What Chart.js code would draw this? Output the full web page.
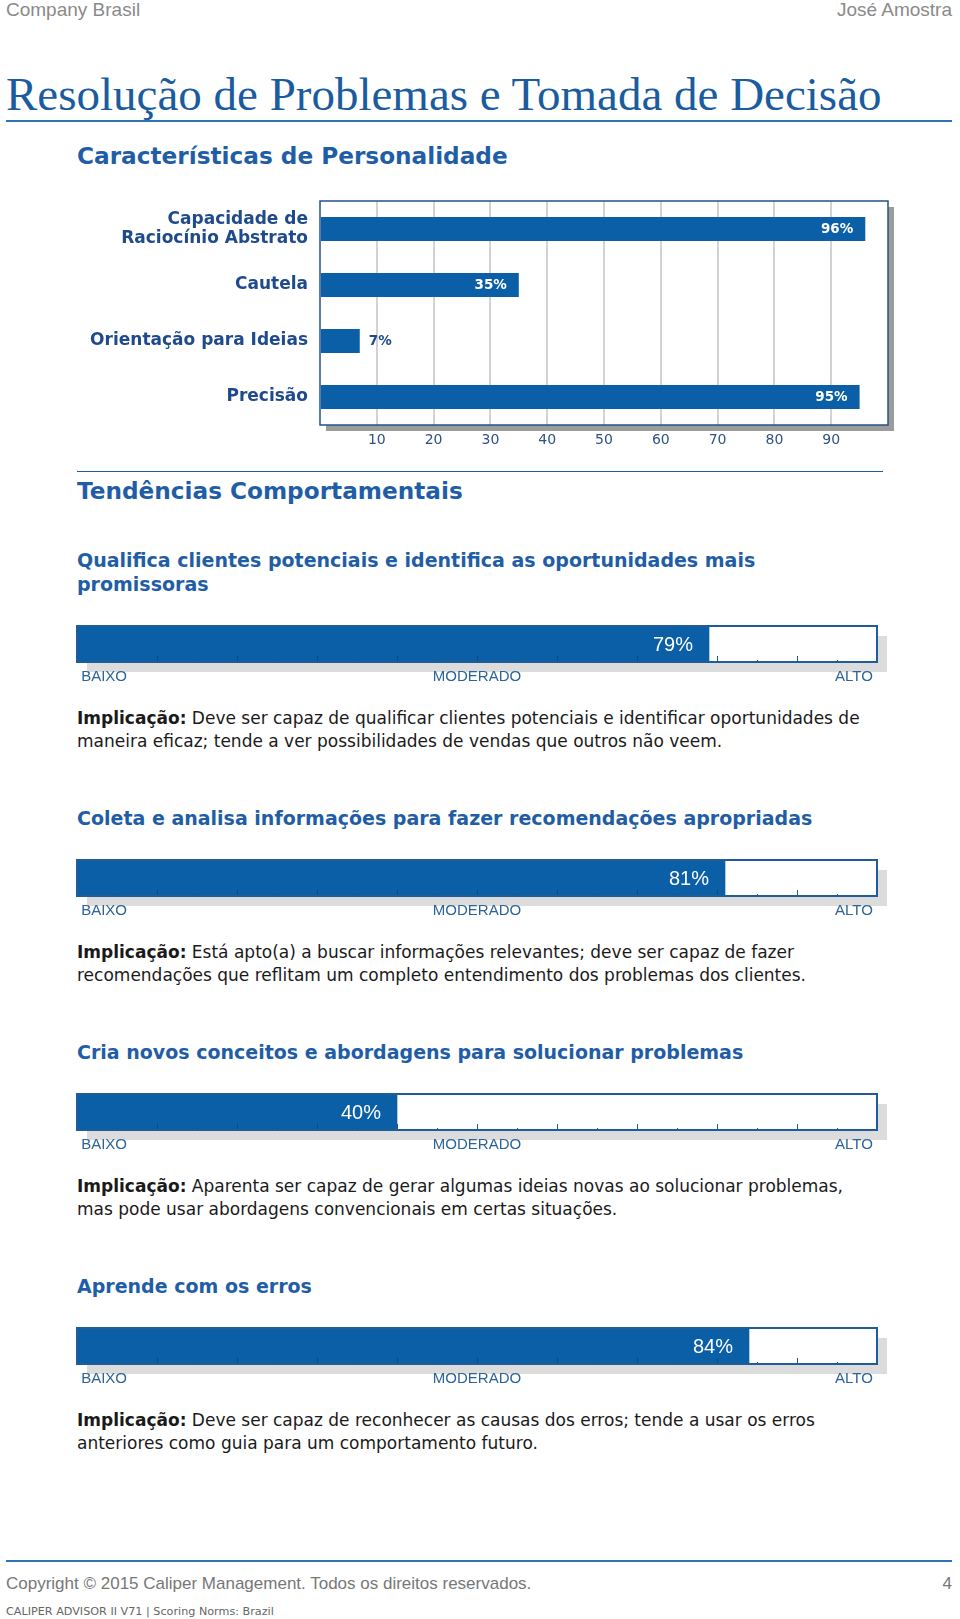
<!DOCTYPE html>
<html>
<head>
<meta charset="utf-8">
<script src="https://cdn.jsdelivr.net/npm/chart.js@4.4.0/dist/chart.umd.min.js"></script>
<style>
  body { margin: 0; background: #fff; }
  #page { position: relative; width: 960px; height: 1619px; overflow: hidden; font-family: "DejaVu Sans", Verdana, sans-serif; }
  .abs { position: absolute; white-space: nowrap; }
  .hdr { font-family: "Liberation Sans", Arial, sans-serif; font-size: 19px; line-height: 20px; color: #8a8a8a; top: 0; }
  #title { left: 6px; top: 68px; font-family: "Liberation Serif", "Times New Roman", serif; font-size: 47px; line-height: 52px; color: #1a5c9e; }
  .rule { position: absolute; background: #2f72b4; }
  .h1 { left: 77px; font-weight: bold; font-size: 23.2px; line-height: 26px; color: #1f5ea6; }
  .h2 { left: 77px; font-weight: bold; font-size: 19px; line-height: 24px; color: #1f5ea6; }
  .imp { left: 77px; font-size: 17px; line-height: 23px; color: #1a1a1a; }
  .foot { font-family: "Liberation Sans", Arial, sans-serif; font-size: 17px; line-height: 20px; color: #777; top: 1574px; }
  canvas { position: absolute; }
</style>
</head>
<body>
<div id="page">
  <div class="abs hdr" style="left:6px">Company Brasil</div>
  <div class="abs hdr" style="right:8px">José Amostra</div>
  <div class="abs" id="title">Resolução de Problemas e Tomada de Decisão</div>
  <div class="rule" style="left:6px;top:120px;width:946px;height:2px"></div>

  <div class="abs h1" style="top:143px">Características de Personalidade</div>
  <canvas id="traits" width="840" height="265" style="left:60px;top:190px"></canvas>
  <div class="rule" style="left:77px;top:471px;width:806px;height:1px;background:#1f5a9c"></div>

  <div class="abs h1" style="top:478px">Tendências Comportamentais</div>

  <div class="rule" style="left:6px;top:1560px;width:946px;height:2px"></div>
  <div class="abs foot" style="left:6px">Copyright © 2015 Caliper Management. Todos os direitos reservados.</div>
  <div class="abs foot" style="right:8px">4</div>
  <div class="abs" style="left:6px;top:1605px;font-size:11.2px;line-height:13px;color:#666">CALIPER ADVISOR II V71 | Scoring Norms: Brazil</div>
</div>

<script>
// personality traits (top chart)
const traitLabels = [['Capacidade de', 'Raciocínio Abstrato'], 'Cautela', 'Orientação para Ideias', 'Precisão'];
const traitValues = [96, 35, 7, 95];

// behaviour tendencies (meters)
const meterTitles = [
  ['Qualifica clientes potenciais e identifica as oportunidades mais', 'promissoras'],
  ['Coleta e analisa informações para fazer recomendações apropriadas'],
  ['Cria novos conceitos e abordagens para solucionar problemas'],
  ['Aprende com os erros']
];
const meterValues = [79, 81, 40, 84];
const scaleNames = [' BAIXO', 'MODERADO', 'ALTO '];
const implications = [
  ['Deve ser capaz de qualificar clientes potenciais e identificar oportunidades de', 'maneira eficaz; tende a ver possibilidades de vendas que outros não veem.'],
  ['Está apto(a) a buscar informações relevantes; deve ser capaz de fazer', 'recomendações que reflitam um completo entendimento dos problemas dos clientes.'],
  ['Aparenta ser capaz de gerar algumas ideias novas ao solucionar problemas,', 'mas pode usar abordagens convencionais em certas situações.'],
  ['Deve ser capaz de reconhecer as causas dos erros; tende a usar os erros', 'anteriores como guia para um comportamento futuro.']
];

const BLUE = '#0a5fa7';
Chart.defaults.font.family = '"DejaVu Sans", Verdana, sans-serif';
Chart.defaults.animation = false;

// white plot box with offset shadow and border
const boxPlugin = {
  id: 'box',
  beforeDraw(chart, args, o) {
    const { ctx, chartArea: a } = chart;
    ctx.save();
    ctx.fillStyle = o.shadow;
    ctx.fillRect(a.left + o.off, a.top + o.off, a.width, a.height);
    ctx.fillStyle = '#fff';
    ctx.fillRect(a.left, a.top, a.width, a.height);
    ctx.restore();
  },
  afterDraw(chart, args, o) {
    const { ctx, chartArea: a } = chart;
    ctx.save();
    ctx.strokeStyle = o.border;
    ctx.lineWidth = o.lw;
    ctx.strokeRect(a.left, a.top, a.width, a.height);
    ctx.restore();
  }
};

// % labels on the trait bars
const traitLabelPlugin = {
  id: 'traitLabels',
  afterDatasetsDraw(chart) {
    const ctx = chart.ctx;
    ctx.save();
    ctx.font = 'bold 13.5px "DejaVu Sans"';
    ctx.textBaseline = 'middle';
    chart.getDatasetMeta(0).data.forEach((bar, i) => {
      const v = traitValues[i];
      if (v > 15) {
        ctx.fillStyle = '#fff';
        ctx.textAlign = 'right';
        ctx.fillText(v + '%', bar.x - 12, bar.y);
      } else {
        ctx.fillStyle = '#1f4a8b';
        ctx.textAlign = 'left';
        ctx.fillText(v + '%', bar.x + 9, bar.y);
      }
    });
    ctx.restore();
  }
};

new Chart(document.getElementById('traits'), {
  type: 'bar',
  data: {
    labels: traitLabels,
    datasets: [{ data: traitValues, backgroundColor: BLUE, barPercentage: 0.43, categoryPercentage: 1 }]
  },
  options: {
    indexAxis: 'y',
    responsive: false,
    layout: { padding: { top: 11, right: 12, left: 0, bottom: 0 } },
    plugins: {
      legend: { display: false },
      tooltip: { enabled: false },
      box: { shadow: '#9c9c9c', off: 6, border: '#244f8c', lw: 1.5 }
    },
    scales: {
      x: {
        min: 0, max: 100,
        afterFit: s => { s.height = 30; s.paddingLeft = 0; s.paddingRight = 0; },
        border: { display: false },
        grid: {
          drawTicks: false, lineWidth: 2,
          color: c => (c.tick && (c.tick.value === 0 || c.tick.value === 100)) ? 'rgba(0,0,0,0)' : '#d2d2d2'
        },
        ticks: {
          stepSize: 10, padding: 7, color: '#2f5283', font: { size: 14 },
          callback: v => (v === 0 || v === 100) ? '' : v
        }
      },
      y: {
        afterFit: s => { s.width = 260; s.paddingTop = 0; s.paddingBottom = 0; },
        border: { display: false },
        grid: { display: false, drawTicks: false },
        ticks: { padding: 12, color: '#1f4a8b', font: { size: 17, weight: 'bold', lineHeight: 1.1 } }
      }
    }
  },
  plugins: [boxPlugin, traitLabelPlugin]
});

// meter tick marks + value text
const meterPlugin = {
  id: 'meter',
  afterDatasetsDraw(chart, args, o) {
    const { ctx, chartArea: a } = chart;
    const sx = chart.scales.x;
    ctx.save();
    for (let v = 5; v < 100; v += 5) {
      const x = Math.round(sx.getPixelForValue(v)) + 0.5;
      const len = v % 10 === 0 ? 6 : 2;
      ctx.strokeStyle = v < o.value ? 'rgba(0,25,70,0.3)' : '#1f5c98';
      ctx.lineWidth = 1;
      ctx.beginPath();
      ctx.moveTo(x, a.bottom);
      ctx.lineTo(x, a.bottom - len);
      ctx.stroke();
    }
    const bar = chart.getDatasetMeta(0).data[0];
    ctx.font = '20px "Liberation Sans", Arial, sans-serif';
    ctx.fillStyle = '#fff';
    ctx.textAlign = 'right';
    ctx.textBaseline = 'middle';
    ctx.fillText(o.value + '%', bar.x - 16, bar.y + 1);
    ctx.restore();
  }
};

const page = document.getElementById('page');
const headTops = [548, 806, 1040, 1274];

meterTitles.forEach((lines, i) => {
  const h = document.createElement('div');
  h.className = 'abs h2';
  h.style.top = headTops[i] + 'px';
  h.innerHTML = lines.join('<br>');
  page.appendChild(h);

  const barTop = headTops[i] + 54 + 24 * (lines.length - 1);

  const cv = document.createElement('canvas');
  cv.width = 830; cv.height = 67;
  cv.style.left = '67px';
  cv.style.top = (barTop - 1) + 'px';
  page.appendChild(cv);

  const imp = document.createElement('div');
  imp.className = 'abs imp';
  imp.style.top = (barTop + 81) + 'px';
  imp.innerHTML = '<b>Implicação:</b> ' + implications[i].join('<br>');
  page.appendChild(imp);

  new Chart(cv, {
    type: 'bar',
    data: {
      labels: [''],
      datasets: [{ data: [meterValues[i]], backgroundColor: BLUE, barPercentage: 1, categoryPercentage: 1 }]
    },
    options: {
      indexAxis: 'y',
      responsive: false,
      layout: { padding: { top: 1, left: 10, right: 20, bottom: 0 } },
      plugins: {
        legend: { display: false },
        tooltip: { enabled: false },
        box: { shadow: '#dcdcdc', off: 10, border: '#1f5c98', lw: 2 },
        meter: { value: meterValues[i] }
      },
      scales: {
        x: {
          min: 0, max: 100,
          afterFit: s => { s.height = 30; },
          border: { display: false },
          grid: { display: false, drawTicks: false },
          ticks: {
            stepSize: 5, autoSkip: false, maxRotation: 0, align: 'inner', padding: 6,
            color: '#2c6399', font: { family: '"Liberation Sans", Arial, sans-serif', size: 15 },
            callback: v => v === 0 ? scaleNames[0] : v === 50 ? scaleNames[1] : v === 100 ? scaleNames[2] : ''
          }
        },
        y: { display: false }
      }
    },
    plugins: [boxPlugin, meterPlugin]
  });
});
</script>
</body>
</html>
